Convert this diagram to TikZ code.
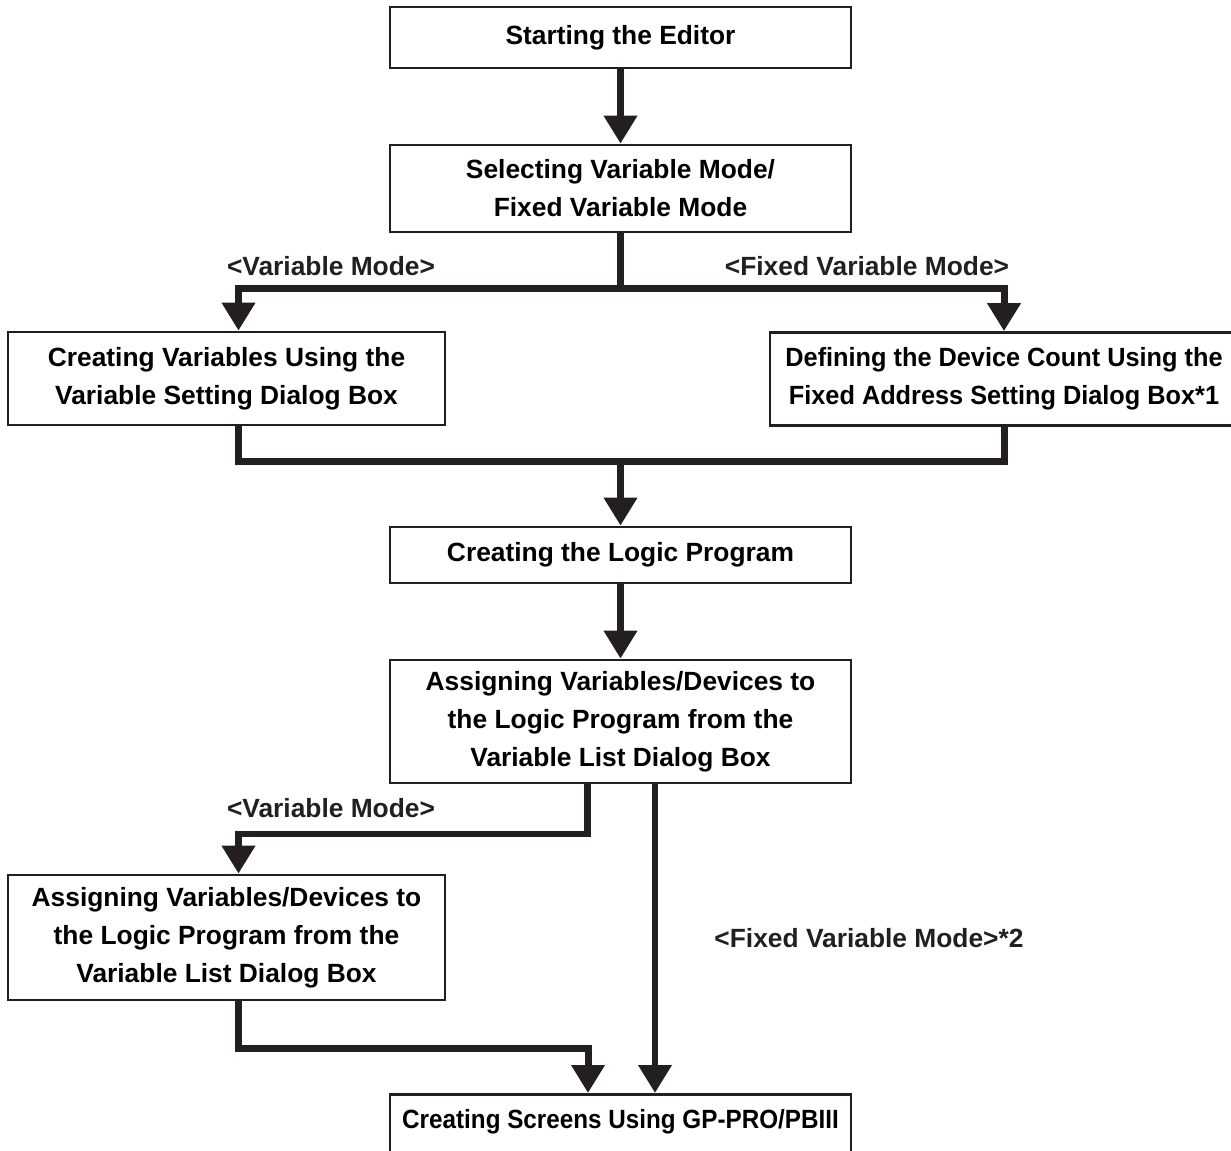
\documentclass[tikz,border=0pt]{standalone}
\usepackage{fontspec}
\setmainfont{Liberation Sans}
\newfontfamily\tightfont[FakeStretch=0.96]{Liberation Sans}
\newfontfamily\narrowfont[FakeStretch=0.92]{Liberation Sans}
\usetikzlibrary{arrows.meta,positioning,calc}
\definecolor{ink}{HTML}{231F20}

\begin{document}
\begin{tikzpicture}[
  x=0.02cm, y=-0.02cm,
  font=\fontsize{15pt}{21.6pt}\selectfont\bfseries,
  block/.style={draw=ink,line width=0.055cm,align=center,minimum width=9.22cm,inner sep=0pt},
  side/.style={block,minimum width=8.74cm},
  lbl/.style={text=ink,inner sep=0pt},
  ln/.style={draw=ink,line width=0.14cm},
  arr/.style={ln,-{Triangle[width=0.64cm,length=0.56cm]}}
]
  \useasboundingbox (0,0) rectangle (1231,1151);
  \clip (0,0) rectangle (1231,1151);
  % boxes
  \node[block,minimum height=1.22cm] (start) at (620.5,37.5) {Starting the Editor};
  \node[block,minimum height=1.74cm] (select) at (620.5,188.5) {Selecting Variable Mode/\\Fixed Variable Mode};
  \node[side,minimum height=1.86cm] (varset) at (226.5,378.5) {Creating Variables Using the\\Variable Setting Dialog Box};
  \node[block,minimum width=9.36cm,minimum height=1.86cm,
        font=\fontsize{15pt}{21.6pt}\tightfont\bfseries] (fixset) at (1004,379) {Defining the Device Count Using the\\Fixed Address Setting Dialog Box*1};
  \node[block,minimum height=1.12cm] (logic) at (620.5,555) {Creating the Logic Program};
  \node[block,minimum height=2.46cm] (assign) at (620.5,721.5) {Assigning Variables/Devices to\\the Logic Program from the\\Variable List Dialog Box};
  \node[side,minimum height=2.5cm] (assignvar) at (226.5,937.5) {Assigning Variables/Devices to\\the Logic Program from the\\Variable List Dialog Box};
  \node[block,anchor=north,text height=0.5cm,text depth=1cm,inner ysep=0.18cm,
        font=\fontsize{15pt}{21.6pt}\narrowfont\bfseries] (screens) at (620.5,1093) {Creating Screens Using GP-PRO/PBIII};
  % labels
  \node[lbl] (varA) at (331,266) {<Variable Mode>};
  \node[lbl] (fixA) at (867,266) {<Fixed Variable Mode>};
  \node[lbl] (varB) at (331,808) {<Variable Mode>};
  \node[lbl] (fixB) at (869,938) {<Fixed Variable Mode>*2};
  % junctions
  \coordinate (split) at (select.south |- 0,289);
  \coordinate (inL) at ([xshift=0.24cm]varset.north);
  \coordinate (outL) at ([xshift=0.24cm]varset.south);
  \coordinate (merge) at (select.south |- 0,462);
  \coordinate (outA) at ([xshift=-0.67cm]assign.south);
  \coordinate (outB) at ([xshift=0.69cm]assign.south);
  \coordinate (inA) at ([xshift=0.24cm]assignvar.north);
  \coordinate (outC) at ([xshift=0.24cm]assignvar.south);
  \coordinate (inS) at ([xshift=-0.65cm]screens.north);
  \coordinate (inT) at (outB |- screens.north);
  % connectors
  \draw[arr] (start) -- (select);
  \draw[ln] (select.south) -- (split);
  \draw[arr] (split) -| (inL);
  \draw[arr] (split) -| (fixset.north);
  \draw[ln] (outL) |- (merge) -| (fixset.south);
  \draw[arr] (merge) -- (logic.north);
  \draw[arr] (logic) -- (assign);
  \draw[arr] (outA) |- (inA |- 0,834) -- (inA);
  \draw[arr] (outB) -- (inT);
  \draw[arr] (outC) |- (inS |- 0,1048) -- (inS);
\end{tikzpicture}
\end{document}
